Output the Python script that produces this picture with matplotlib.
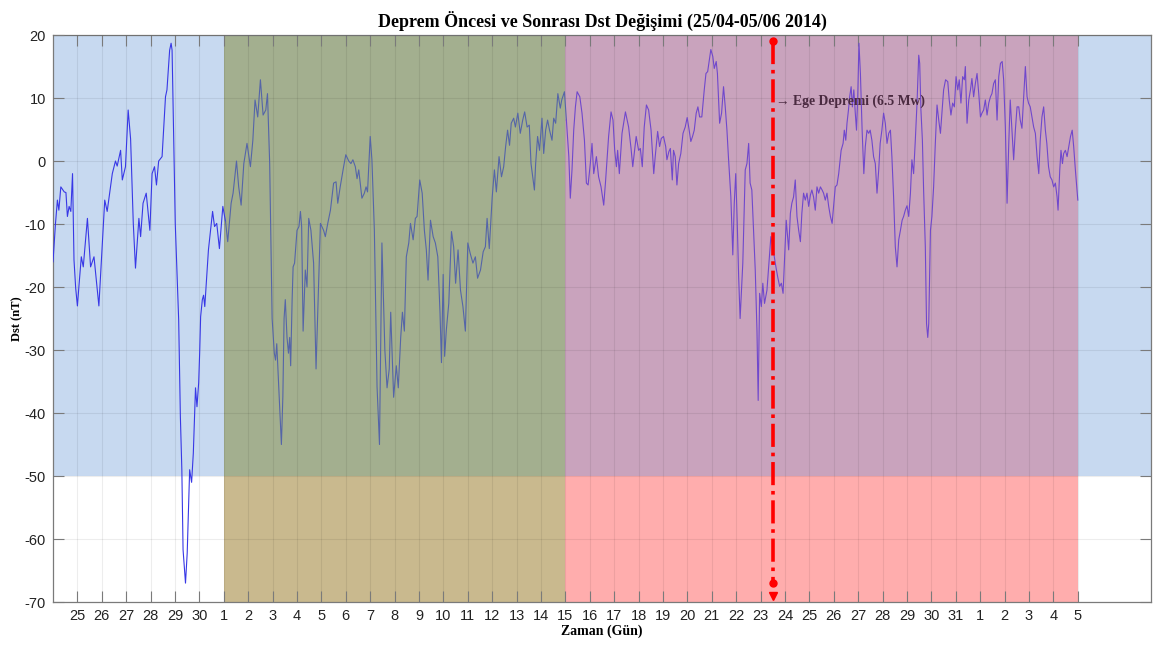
import numpy as np
import matplotlib
matplotlib.use("Agg")
import matplotlib.pyplot as plt

plt.rcParams["axes.unicode_minus"] = False

# Dst values (nT), x = days counted from 25 April 2014
dst_t = [
    -1.0, -0.9, -0.82, -0.76, -0.68, -0.54, -0.47, -0.41, -0.34, -0.27, -0.2, -0.14, -0.07, 0.0, 0.07,
    0.16, 0.24, 0.41, 0.54, 0.68, 0.88, 1.12, 1.22, 1.43, 1.56, 1.63, 1.77, 1.84, 1.97, 2.08, 2.18,
    2.29, 2.38, 2.52, 2.59, 2.69, 2.82, 2.97, 3.06, 3.16, 3.24, 3.33, 3.47, 3.61, 3.67, 3.78, 3.84,
    3.88, 4.01, 4.15, 4.22, 4.28, 4.33, 4.43, 4.5, 4.6, 4.68, 4.75, 4.84, 4.9, 4.97, 5.01, 5.05,
    5.12, 5.17, 5.22, 5.37, 5.54, 5.62, 5.71, 5.82, 5.96, 6.07, 6.16, 6.3, 6.38, 6.52, 6.61, 6.71,
    6.82, 6.95, 7.09, 7.19, 7.28, 7.39, 7.5, 7.61, 7.72, 7.79, 7.88, 7.98, 8.07, 8.12, 8.17, 8.3,
    8.36, 8.42, 8.47, 8.52, 8.59, 8.65, 8.7, 8.74, 8.8, 8.84, 8.9, 9.0, 9.08, 9.14, 9.19, 9.25,
    9.34, 9.41, 9.48, 9.57, 9.68, 9.78, 9.88, 9.96, 10.09, 10.16, 10.26, 10.37, 10.5, 10.6, 10.67,
    10.77, 10.91, 11.0, 11.12, 11.21, 11.29, 11.39, 11.46, 11.53, 11.66, 11.76, 11.83, 11.89, 12.0,
    12.07, 12.17, 12.28, 12.38, 12.48, 12.6, 12.69, 12.78, 12.84, 12.9, 12.96, 13.07, 13.15, 13.25,
    13.32, 13.4, 13.48, 13.58, 13.65, 13.76, 13.85, 13.92, 14.03, 14.13, 14.22, 14.3, 14.37, 14.47,
    14.58, 14.67, 14.77, 14.86, 14.92, 14.99, 15.05, 15.12, 15.22, 15.33, 15.42, 15.5, 15.6, 15.7,
    15.8, 15.9, 16.0, 16.1, 16.21, 16.31, 16.4, 16.52, 16.63, 16.72, 16.79, 16.88, 17.0, 17.09,
    17.17, 17.28, 17.38, 17.47, 17.55, 17.63, 17.71, 17.78, 17.88, 17.95, 18.05, 18.15, 18.25,
    18.33, 18.43, 18.52, 18.59, 18.67, 18.73, 18.78, 18.86, 18.94, 19.04, 19.11, 19.19, 19.27,
    19.35, 19.45, 19.52, 19.6, 19.69, 19.79, 19.85, 19.96, 20.04, 20.14, 20.2, 20.27, 20.34, 20.41,
    20.48, 20.59, 20.68, 20.78, 20.86, 20.93, 21.02, 21.09, 21.16, 21.27, 21.36, 21.46, 21.57,
    21.64, 21.77, 21.87, 21.95, 22.02, 22.09, 22.14, 22.21, 22.32, 22.46, 22.59, 22.69, 22.76,
    22.82, 22.9, 23.0, 23.07, 23.15, 23.23, 23.32, 23.41, 23.51, 23.62, 23.68, 23.78, 23.86, 23.93,
    24.02, 24.11, 24.16, 24.24, 24.3, 24.38, 24.43, 24.5, 24.57, 24.64, 24.73, 24.82, 24.91, 24.99,
    25.06, 25.14, 25.21, 25.28, 25.36, 25.43, 25.5, 25.59, 25.69, 25.76, 25.83, 25.89, 25.96, 26.04,
    26.1, 26.18, 26.23, 26.32, 26.4, 26.48, 26.55, 26.62, 26.68, 26.78, 26.86, 26.92, 26.98, 27.04,
    27.1, 27.16, 27.27, 27.37, 27.44, 27.51, 27.57, 27.64, 27.71, 27.78, 27.85, 27.9, 27.96, 28.03,
    28.09, 28.16, 28.26, 28.35, 28.42, 28.5, 28.6, 28.7, 28.78, 28.85, 28.92, 28.98, 29.05, 29.15,
    29.22, 29.28, 29.35, 29.42, 29.49, 29.56, 29.63, 29.69, 29.76, 29.83, 29.9, 29.97, 30.04, 30.1,
    30.17, 30.24, 30.31, 30.38, 30.45, 30.52, 30.58, 30.65, 30.72, 30.79, 30.86, 30.93, 31.0, 31.06,
    31.13, 31.2, 31.3, 31.38, 31.43, 31.49, 31.54, 31.6, 31.65, 31.71, 31.76, 31.82, 31.88, 31.93,
    31.98, 32.03, 32.09, 32.16, 32.23, 32.29, 32.36, 32.43, 32.49, 32.56, 32.63, 32.7, 32.77, 32.84,
    32.9, 32.97, 33.04, 33.11, 33.18, 33.25, 33.32, 33.38, 33.45, 33.52, 33.59, 33.66, 33.73, 33.8,
    33.86, 33.93, 34.0, 34.07, 34.14, 34.2, 34.27, 34.34, 34.41, 34.48, 34.52, 34.57, 34.63, 34.68,
    34.75, 34.8, 34.85, 34.89, 34.96, 35.02, 35.09, 35.16, 35.23, 35.3, 35.37, 35.43, 35.5, 35.58,
    35.67, 35.73, 35.8, 35.87, 35.94, 36.01, 36.08, 36.14, 36.21, 36.28, 36.35, 36.39, 36.46, 36.53,
    36.6, 36.66, 36.73, 36.8, 36.87, 36.94, 37.01, 37.07, 37.14, 37.21, 37.28, 37.35, 37.42, 37.48,
    37.55, 37.62, 37.69, 37.76, 37.83, 37.9, 37.96, 38.03, 38.1, 38.17, 38.23, 38.3, 38.37, 38.44,
    38.51, 38.58, 38.64, 38.71, 38.78, 38.85, 38.92, 38.98, 39.05, 39.12, 39.19, 39.26, 39.33, 39.4,
    39.46, 39.53, 39.6, 39.67, 39.73, 39.8, 39.87, 39.94, 40.01, 40.08, 40.15, 40.19, 40.26, 40.31,
    40.37, 40.42, 40.49, 40.56, 40.63, 40.7, 40.77, 40.83, 40.9, 41.0,
]
dst_v = [
    -16, -10, -6.2, -7.8, -4.1, -4.9, -5, -8.8, -7.2, -8, -2, -15.7, -20.2, -23, -19.5,
    -15.2, -16.8, -9.1, -16.8, -15.2, -23, -6.2, -8, -2, 0, -0.8, 1.7, -3, -0.9, 8.1, 3.5,
    -9.9, -17, -9.1, -12, -6.7, -5.1, -11, -2, -0.9, -3.8, 0, 0.7, 10.2, 11.3, 17.6, 18.7,
    17.6, -9.9, -25.2, -40.6, -49, -61.7, -67, -62.2, -49, -51, -46.4, -36, -39, -35.2, -30.5, -24.7,
    -22, -21.3, -23.1, -14.1, -8, -10.4, -9.9, -13.9, -7.2, -9.6, -12.8, -6.7, -5.1, 0, -4.1, -7,
    -0.4, 2.8, -0.9, 3.3, 9.7, 7, 12.9, 7.3, 8.1, 10.7, -0.4, -25, -30.5, -31.6, -29, -40,
    -45, -37.4, -25, -22, -28, -30.5, -28, -32.5, -22, -16.8, -16.2, -11, -10.4, -8, -10.4, -27,
    -17.3, -20, -9.1, -11, -16.2, -33, -20, -9.9, -11, -12, -9.9, -7.8, -3.5, -3.3, -6.7,
    -4.1, -0.9, 1, 0, -0.4, 0.2, -0.9, -2.8, -1.4, -5.9, -5.1, -4.1, -4.9, 3.9,
    0.2, -11, -35.8, -45, -13, -30, -36, -33, -24, -31, -37.5, -32.5, -36, -28,
    -24, -27, -15.2, -13, -9.9, -12.5, -9.1, -8.8, -3, -5.1, -11, -14.1, -18.9, -9.4,
    -12, -13, -15.2, -24, -32, -18, -31, -26.8, -22.6, -11.2, -13.6, -19.4, -14.1, -20.5,
    -23.1, -27, -13, -14.7, -16.2, -15.2, -18.6, -17.3, -14.4, -13.6, -9.1, -13.9, -5.7, -1.4,
    -4.9, 0.7, -2.5, -0.9, 2.3, 4.9, 2.5, 6, 6.8, 5.4, 7.6, 4.4, 6.5,
    7.8, 5.4, 5.7, -0.4, -2.8, -4.6, -0.4, 3.9, 1.7, 6.8, 1.2, 4.9, 6.5,
    4.9, 3.3, 6.8, 6, 10.7, 8.4, 9.7, 11, 6.5, 0.7, -5.9, -1.4, 4.9, 8.6,
    11, 10.2, 7.6, 3.3, -3.5, -3.8, -0.4, 2.8, -2, 0.7, -2.5, -4.1, -7,
    -3.5, 3.9, 7.8, 6.5, 1.7, -0.9, 1.7, -2, 4.4, 7.8, 5.4, 2, -0.9,
    1.2, 3.9, 1.7, 2, -0.9, 5.4, 8.9, 8.1, 4.9, -2, 0.7, 4.7, 2.3, 3.6,
    3.9, 2.3, 0.2, 1.5, 2, -3, 1.7, 0.7, -3.8, -0.4, 1.2, 4.4, 5.4, 6.9,
    5.2, 3.1, 3.9, 4.9, 7.6, 8.6, 7, 7, 11.3, 13.9, 14.2, 15.8, 17.7, 16.6,
    14.7, 15.8, 13.9, 6, 7.6, 11.8, 8.6, 4.9, 0.7, -5.7, -14.9, -6.7, -2, -9.5,
    -18.4, -25, -16.2, -1.4, -0.4, 2.8, -3.5, -4.6, -11, -17.3, -26.8, -38, -21, -23.1,
    -19.4, -22.6, -20.5, -15.7, -12, -13.6, -16.2, -18.4, -19.9, -19.4, -21, -15.7, -9.4, -14.1,
    -8.3, -6.7, -5.7, -3, -8.8, -11, -12.8, -8.3, -5.1, -6.2, -5.1, -7.2, -5.4, -4.6,
    -5.7, -7.8, -4.1, -5.1, -4.1, -4.6, -5.1, -6.2, -5.1, -7.2, -8.8, -9.9, -6.7, -4.1,
    -3.8, -2, 1.7, 2.8, 4.9, 3.3, 6, 8.1, 10.2, 11.8, 8.6, 11.3, 7.6, 4.9,
    10.2, 18.7, 13.9, 4.9, -2, 2.3, 4.9, 4.4, 4.9, 3.3, 0.7, -0.4, -5.1, -1.4,
    2.8, 4.9, 7.6, 6, 2.8, 4.4, 4.9, 0.7, -5.7, -13.6, -16.8, -12.5, -11, -9.4,
    -8.8, -7.8, -7.1, -8.8, -5.1, 0.2, -2, 3.3, 9.2, 16.8, 15.5, 8.1, 3.3, -4.6,
    -13.6, -25.8, -28, -25.8, -11, -8.8, -4.1, 2.8, 8.9, 6.5, 4.4, 7.6, 11.3, 12.9,
    12.6, 9.7, 7.3, 9.2, 8.6, 13.4, 11.3, 12.9, 9.2, 13.4, 12.9, 15, 6, 9.7,
    11.3, 13.1, 10.2, 12.3, 13.9, 10.7, 7, 7.6, 8.1, 9.7, 7.3, 9.2, 10.2, 10.7,
    12.3, 12.9, 6.5, 13.4, 15.5, 15.8, 12.9, 5.4, -6.7, 2.8, 9.7, 4.9, 0.2, 4.9,
    8.6, 8.6, 6.5, 5.2, 10.2, 15, 10.2, 9.2, 8.6, 7, 5.4, 4.4, 0.7, -2,
    3.3, 7, 8.6, 4.9, 2.8, -0.9, -2.5, -3, -4.1, -3.5, -5.7, -7.8, -1.4, 1.7,
    -0.4, 1.2, 1.7, 0.7, 2.3, 3.9, 4.9, 2.3, -1.4, -6.2,
]

# day-of-month tick labels, 25 April .. 5 June
tick_days = list(range(25, 31)) + list(range(1, 32)) + list(range(1, 6))

# periods: before (25/04-30/04), pre-quake (01/05-14/05), post (15/05-05/06)
period_edges = [6, 20, 41]
storm_level = -50
quake_day = 28.5
quake_top, quake_bottom = 19, -67
quake_label = "→ Ege Depremi (6.5 Mw)"

t = np.array(dst_t)
v = np.array(dst_v)

fig = plt.figure(figsize=(11.65, 6.49), dpi=100)
ax = fig.add_axes([0.0455, 0.0724, 0.9425, 0.8736])

c_blue = "#C7D9F0"
c_green = "#A3AF8F"
c_tan = "#C9B98E"
c_mauve = "#C9A3BD"
c_pink = "#FFADAD"

ax.fill_between([-1, 44], storm_level, 20, color=c_blue, lw=0, zorder=0)
ax.fill_between(period_edges[:2], -70, storm_level, color=c_tan, lw=0, zorder=0)
ax.fill_between(period_edges[:2], storm_level, 20, color=c_green, lw=0, zorder=0)
ax.fill_between(period_edges[1:], -70, storm_level, color=c_pink, lw=0, zorder=0)
ax.fill_between(period_edges[1:], storm_level, 20, color=c_mauve, lw=0, zorder=0)

# line colour differs per period (semi-transparent patches in the original)
i1 = np.searchsorted(t, period_edges[0])
i2 = np.searchsorted(t, period_edges[1])
ax.plot(t[:i1 + 1], v[:i1 + 1], color="#3838E6", lw=0.8, zorder=3)
ax.plot(t[i1:i2 + 1], v[i1:i2 + 1], color="#5565A8", lw=0.8, zorder=3)
ax.plot(t[i2:], v[i2:], color="#7048CC", lw=0.8, zorder=3)

# earthquake marker
ax.plot([quake_day, quake_day], [quake_top, quake_bottom], color="red", ls="-.", lw=2.6, zorder=4)
ax.plot([quake_day, quake_day], [quake_top, quake_bottom], "o", color="red", ms=5, zorder=4)
ax.plot(quake_day, -69, "v", color="red", ms=6, zorder=4)
ax.text(quake_day + 0.12, 9.5, quake_label, fontsize=9.8, fontweight="bold",
        family=["Liberation Serif", "DejaVu Serif"], color="#4A2A40", va="center", zorder=5)

ax.set_xlim(-1, 44)
ax.set_ylim(-70, 20)
ax.set_xticks(np.arange(len(tick_days)))
ax.set_xticklabels([str(d) for d in tick_days])
ax.set_yticks(np.arange(-70, 21, 10))
ax.grid(True, color="#000000", alpha=0.07, lw=0.8)
ax.set_axisbelow(False)

ax.tick_params(direction="in", length=8, width=0.8, top=True, right=True,
               labelsize=10.5, colors="#7a7a7a", labelcolor="#222222", pad=5)
for lab in ax.get_xticklabels() + ax.get_yticklabels():
    lab.set_family("Liberation Sans")
for s in ax.spines.values():
    s.set_color("#7a7a7a")
    s.set_linewidth(0.9)

serif = "Liberation Serif"
ax.set_title("Deprem Öncesi ve Sonrası Dst Değişimi (25/04-05/06 2014)",
             family=serif, fontweight="bold", fontsize=13, pad=6)
ax.set_xlabel("Zaman (Gün)", family=serif, fontweight="bold", fontsize=10, labelpad=1)
ax.set_ylabel("Dst (nT)", family=serif, fontweight="bold", fontsize=9, labelpad=1)

fig.savefig("out.png", dpi=100)
